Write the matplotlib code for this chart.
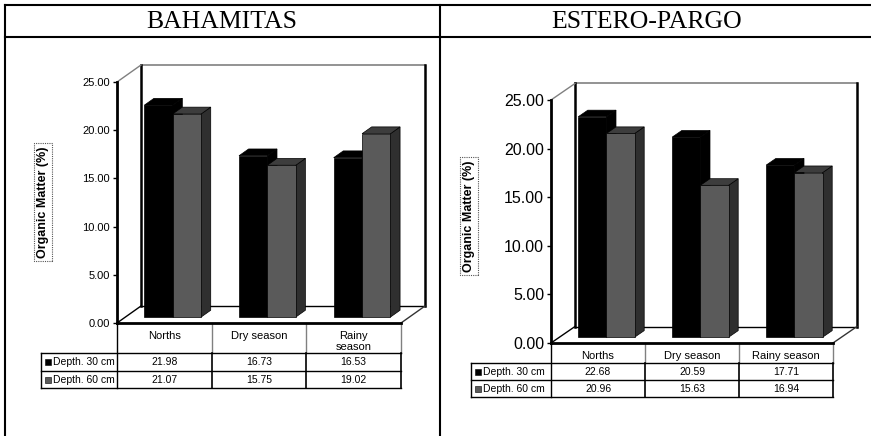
import numpy as np
import matplotlib.pyplot as plt
from matplotlib.patches import Polygon, Rectangle

W, H = 871, 436

series_names = ["Depth. 30 cm", "Depth. 60 cm"]
bah_categories = ["Norths", "Dry season", "Rainy\nseason"]
bah_30cm = [21.98, 16.73, 16.53]
bah_60cm = [21.07, 15.75, 19.02]
est_categories = ["Norths", "Dry season", "Rainy season"]
est_30cm = [22.68, 20.59, 17.71]
est_60cm = [20.96, 15.63, 16.94]
y_ticks = [0, 5, 10, 15, 20, 25]

SANS = "Liberation Sans"
SERIF = "Liberation Serif"
FRONT = ["#000000", "#5a5a5a"]
TOP = ["#000000", "#3d3d3d"]
SIDE = ["#000000", "#2f2f2f"]
BAR_W = 0.3   # width of one bar, category units
Z0 = 0.35     # depth of bar front face (0 = front plane, 1 = back wall)
DZ = 0.4      # bar depth


def draw_chart(fig, x0, x1, y0, ytop, dx_px, dy_px, s30, s60, tick_size):
    ax = fig.add_axes([x0 / W, 1 - y0 / H, (x1 - x0) / W, (y0 - ytop) / H])
    ax.patch.set_alpha(0)
    n = len(s30)
    ax.set_xlim(0, n)
    ax.set_ylim(0, 25)
    ddx = dx_px / ((x1 - x0) / n)
    ddy = dy_px / ((y0 - ytop) / 25)

    # back wall and floor
    ax.add_patch(Polygon([(ddx, ddy), (n + ddx, ddy), (n + ddx, 25 + ddy), (ddx, 25 + ddy)],
                         closed=True, fc="white", ec="none", clip_on=False, zorder=1))
    ax.plot([ddx, n + ddx], [25 + ddy, 25 + ddy], color="#808080", lw=1.2, clip_on=False, zorder=1.5)
    ax.plot([ddx, ddx], [ddy, 25 + ddy], color="black", lw=1.8, clip_on=False, zorder=1.5)
    ax.plot([n + ddx, n + ddx], [ddy, 25 + ddy], color="black", lw=1.8, clip_on=False, zorder=1.5)
    ax.plot([ddx, n + ddx], [ddy, ddy], color="black", lw=1.0, clip_on=False, zorder=1.5)
    ax.plot([0, ddx], [25, 25 + ddy], color="#808080", lw=1.0, clip_on=False, zorder=1.5)
    ax.plot([0, ddx], [0, ddy], color="black", lw=1.0, clip_on=False, zorder=1.5)
    ax.plot([n, n + ddx], [0, ddy], color="#333333", lw=1.0, clip_on=False, zorder=1.5)
    ax.plot([0, n], [0, 0], color="black", lw=2.0, clip_on=False, zorder=4)

    ex, ey = DZ * ddx, DZ * ddy
    for i in range(n):
        for s, vals in enumerate([s30, s60]):
            v = vals[i]
            xl = i + 0.5 - BAR_W + s * BAR_W + Z0 * ddx
            xr = xl + BAR_W
            yb = Z0 * ddy
            yt = v + Z0 * ddy
            z = 2 + i + s * 0.5
            ax.add_patch(Polygon([(xr, yb), (xr + ex, yb + ey), (xr + ex, yt + ey), (xr, yt)],
                                 closed=True, fc=SIDE[s], ec="black", lw=0.5,
                                 clip_on=False, zorder=z))
            ax.add_patch(Polygon([(xl, yt), (xr, yt), (xr + ex, yt + ey), (xl + ex, yt + ey)],
                                 closed=True, fc=TOP[s], ec="black", lw=0.5,
                                 clip_on=False, zorder=z))
            ax.add_patch(Rectangle((xl, yb), BAR_W, v, fc=FRONT[s], ec="black", lw=0.5,
                                   clip_on=False, zorder=z + 0.1))

    for side in ["top", "right", "bottom"]:
        ax.spines[side].set_visible(False)
    ax.spines["left"].set_linewidth(2.0)
    ax.spines["left"].set_zorder(4)
    ax.set_xticks([])
    ax.set_yticks(y_ticks)
    ax.set_yticklabels([f"{t:.2f}" for t in y_ticks], fontfamily=SANS, fontsize=tick_size)
    ax.tick_params(axis="y", direction="out", length=3, width=1, pad=2)
    return ax


def draw_table(bg, tl, x0, x1, y0, rows, cats, s30, s60, head_y, head_va):
    n = len(cats)
    edges = np.linspace(x0, x1, n + 1)
    hb, r1, r2 = rows
    bg.plot([x0, x0], [y0, r2], color="black", lw=1.0)
    for x in edges[1:]:
        bg.plot([x, x], [y0, hb], color="#808080", lw=1.0)
        bg.plot([x, x], [hb, r2], color="black", lw=1.2)
    bg.plot([tl, tl], [hb, r2], color="black", lw=1.0)
    for y in rows:
        bg.plot([tl, x1], [y, y], color="black", lw=1.0)

    centers = (edges[:-1] + edges[1:]) / 2
    for c, lab in zip(centers, cats):
        bg.text(c, head_y, lab, ha="center", va=head_va, fontsize=8,
                fontfamily=SANS, linespacing=1.1)
    for (ya, yb), name, vals, col in zip([(hb, r1), (r1, r2)], series_names,
                                         [s30, s60], FRONT):
        ym = (ya + yb) / 2
        bg.add_patch(Rectangle((tl + 4, ym - 3), 6, 6, fc=col, ec="black", lw=0.4))
        bg.text(tl + 12, ym, name, ha="left", va="center", fontsize=7.5, fontfamily=SANS)
        for c, v in zip(centers, vals):
            bg.text(c, ym, f"{v:.2f}", ha="center", va="center", fontsize=7.5,
                    fontfamily=SANS)


fig = plt.figure(figsize=(W / 100, H / 100), dpi=100)
bg = fig.add_axes([0, 0, 1, 1])
bg.set_xlim(0, W)
bg.set_ylim(H, 0)
bg.axis("off")

# outer frame of the two-panel layout
bg.plot([5, W], [5.5, 5.5], color="black", lw=1.5)
bg.plot([5, W], [37.5, 37.5], color="black", lw=1.5)
bg.plot([5, 5], [5, H], color="black", lw=1.5)
bg.plot([440, 440], [5, H], color="black", lw=1.5)
bg.text(222, 22, "BAHAMITAS", ha="center", va="center", fontsize=18.5, fontfamily=SERIF)
bg.text(647, 22, "ESTERO-PARGO", ha="center", va="center", fontsize=18.5, fontfamily=SERIF)

box = dict(boxstyle="square,pad=0.25", fc="white", ec="#555555", ls=(0, (1, 1)), lw=0.8)

# BAHAMITAS
draw_chart(fig, 117, 401, 323, 82, 24, 17, bah_30cm, bah_60cm, 8)
draw_table(bg, 41, 117, 401, 323, (353, 371, 388), bah_categories,
           bah_30cm, bah_60cm, 331, "top")
bg.text(43, 202, "Organic Matter (%)", rotation=90, ha="center", va="center",
        fontsize=9, fontweight="bold", fontfamily=SANS, bbox=box)

# ESTERO-PARGO
draw_chart(fig, 551, 833, 343, 100, 24, 16.5, est_30cm, est_60cm, 11.5)
draw_table(bg, 471, 551, 833, 343, (363, 380, 397), est_categories,
           est_30cm, est_60cm, 356, "center")
bg.text(469, 216, "Organic Matter (%)", rotation=90, ha="center", va="center",
        fontsize=9, fontweight="bold", fontfamily=SANS, bbox=box)

fig.savefig("out.png", dpi=100)
